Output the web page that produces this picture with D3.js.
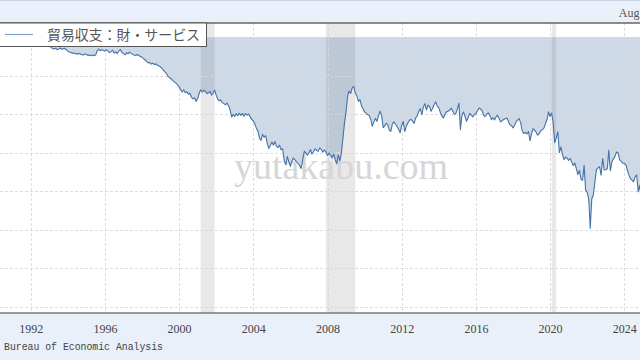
<!DOCTYPE html>
<html><head><meta charset="utf-8">
<script src="https://cdn.jsdelivr.net/npm/d3@7"></script>
<style>html,body{margin:0;padding:0;background:#e9f0fa;overflow:hidden}svg{display:block}</style>
</head><body><svg id="c" width="640" height="360"></svg>
<script>
// ---- data (monthly trade balance, billions USD) ----
const seriesName = "貿易収支：財・サービス";
const sourceText = "Bureau of Economic Analysis";
const headerText = "Aug";
const watermarkText = "yutakabu.com";
const firstMonth = "1992-01-01";
const tradeBalance = [
  -1.9,-1.2,-2.5,-2.6,-3.2,-4.1,-3.3,-3.5,-3.1,-3.8,-3.5,-4.0,          // 1992
  -4.2,-5.4,-5.9,-6.3,-5.8,-6.6,-6.2,-5.7,-6.4,-6.1,-5.9,-6.5,          // 1993
  -7.4,-7.8,-8.1,-8.5,-8.3,-8.6,-8.9,-8.5,-8.8,-9.1,-9.4,-8.8,          // 1994
  -9.0,-9.6,-9.4,-9.8,-9.3,-9.7,-9.4,-7.3,-6.3,-7.1,-6.6,-6.9,          // 1995
  -7.4,-6.5,-7.3,-8.1,-7.6,-6.9,-8.4,-7.8,-8.6,-7.3,-6.6,-8.0,          // 1996
  -8.6,-9.3,-8.2,-8.7,-7.9,-8.5,-9.0,-9.4,-9.7,-9.1,-9.6,-10.2,         // 1997
  -10.4,-11.3,-11.8,-12.6,-13.5,-13.2,-14.1,-13.6,-14.4,-13.9,-14.8,-15.0, // 1998
  -15.6,-16.3,-17.4,-18.3,-19.1,-20.6,-21.2,-21.8,-22.7,-23.4,-23.9,-24.8, // 1999
  -25.9,-27.3,-28.6,-27.4,-28.9,-28.5,-29.7,-29.2,-31.4,-32.1,-31.6,-33.5, // 2000
  -32.0,-29.1,-27.4,-28.6,-27.7,-28.2,-29.4,-29.0,-28.3,-30.2,-29.1,-27.6, // 2001
  -30.3,-32.4,-33.2,-32.6,-34.1,-34.6,-35.2,-34.3,-35.7,-37.9,-41.6,-40.2, // 2002
  -41.3,-39.8,-40.9,-39.6,-40.7,-39.7,-41.2,-39.8,-40.6,-40.0,-41.5,-42.8, // 2003
  -43.6,-45.1,-47.3,-48.9,-52.4,-53.7,-50.6,-52.1,-51.2,-55.1,-57.9,-56.4, // 2004
  -54.6,-56.2,-54.3,-56.7,-57.5,-56.2,-58.6,-58.1,-64.4,-66.3,-62.1,-64.8, // 2005
  -67.2,-64.3,-62.9,-63.8,-64.9,-65.7,-66.8,-68.3,-63.5,-59.4,-60.1,-61.4, // 2006
  -60.2,-58.5,-60.8,-59.6,-58.1,-58.9,-59.3,-57.6,-58.4,-59.8,-58.7,-59.7, // 2007
  -61.5,-60.3,-61.4,-62.8,-60.9,-63.7,-65.9,-61.2,-64.4,-60.1,-52.3,-44.6, // 2008
  -38.6,-30.5,-28.2,-29.3,-26.4,-25.6,-29.1,-30.7,-33.4,-32.6,-35.8,-37.4, // 2009
  -38.9,-39.7,-40.3,-40.8,-42.6,-46.4,-44.1,-42.3,-43.8,-40.9,-38.5,-40.6, // 2010
  -47.1,-46.2,-44.8,-45.6,-48.3,-49.0,-45.2,-44.1,-45.3,-46.5,-47.9,-49.8, // 2011
  -45.8,-43.9,-49.1,-46.4,-44.7,-43.2,-42.8,-43.6,-44.9,-42.1,-41.0,-38.7, // 2012
  -37.2,-40.3,-36.5,-34.6,-37.9,-35.4,-36.1,-38.6,-37.0,-35.1,-33.7,-35.9, // 2013
  -36.8,-39.2,-41.0,-42.1,-40.3,-38.9,-38.6,-38.1,-36.9,-38.4,-40.2,-39.7, // 2014
  -37.5,-34.4,-48.1,-40.6,-38.9,-41.3,-43.8,-42.0,-39.7,-40.6,-41.5,-40.4, // 2015
  -39.8,-38.3,-36.9,-37.4,-38.2,-40.6,-41.3,-40.1,-39.4,-40.7,-42.9,-41.8, // 2016
  -43.1,-41.5,-40.6,-42.3,-44.1,-43.4,-42.9,-42.5,-42.1,-43.8,-45.6,-46.0, // 2017
  -47.2,-45.8,-44.1,-43.2,-42.4,-44.6,-48.7,-50.1,-49.6,-50.3,-49.1,-53.9, // 2018
  -50.2,-47.6,-48.4,-49.5,-51.0,-50.2,-48.7,-48.1,-47.3,-45.1,-43.0,-38.9, // 2019
  -41.3,-39.5,-44.6,-54.9,-52.4,-49.3,-60.1,-57.2,-61.0,-63.7,-62.4,-62.9, // 2020
  -64.1,-63.2,-65.0,-66.8,-65.5,-68.4,-71.5,-69.3,-73.9,-74.5,-66.7,-79.8, // 2021
  -80.6,-84.5,-99.4,-84.0,-82.1,-75.4,-68.9,-68.0,-67.4,-71.8,-63.2,-69.1, // 2022
  -69.0,-68.3,-58.8,-69.5,-64.9,-63.3,-62.0,-59.7,-60.2,-63.8,-64.5,-65.6, // 2023
  -65.6,-66.4,-69.1,-71.8,-73.5,-74.4,-75.3,-72.7,-71.6,-80.3,-77.1,-85.5  // 2024
];
const xTickYears = [1992, 1996, 2000, 2004, 2008, 2012, 2016, 2020, 2024];
const yTickValues = [0, -20, -40, -60, -80, -100, -120, -140];
const recessions = [["2001-03-01","2001-11-30"],["2007-12-01","2009-06-30"],["2020-02-01","2020-04-30"]];

// ---- layout ----
const W = 640, H = 360;
const plot = {left: 0, right: 640, top: 23, bottom: 313};
const svg = d3.select("#c");
const parse = d3.utcParse("%Y-%m-%d");
const start = parse(firstMonth);
const data = tradeBalance.map((v, i) => ({date: d3.utcMonth.offset(start, i), v}));

const x = d3.scaleUtc()
  .domain([new Date(Date.UTC(1992,0,1)), new Date(Date.UTC(2024,0,1))])
  .range([30.7, 624.3]);
const y = d3.scaleLinear().domain([-140, 0]).range([306.5, 37]);

svg.append("rect").attr("width", W).attr("height", H).attr("fill", "#e9f0fa");
svg.append("line").attr("x1",0).attr("x2",W).attr("y1",0.5).attr("y2",0.5).attr("stroke","#c9d5e6");

svg.append("defs").append("clipPath").attr("id","clip")
  .append("rect").attr("x",plot.left).attr("y",plot.top)
  .attr("width",plot.right-plot.left).attr("height",plot.bottom-plot.top);

const g = svg.append("g").attr("clip-path","url(#clip)");
g.append("rect").attr("x",plot.left).attr("y",plot.top)
  .attr("width",plot.right-plot.left).attr("height",plot.bottom-plot.top).attr("fill","#fff");

// recessions
g.selectAll("rect.rec").data(recessions).join("rect").attr("class","rec")
  .attr("x", d => x(parse(d[0])))
  .attr("width", d => x(parse(d[1])) - x(parse(d[0])))
  .attr("y", plot.top).attr("height", plot.bottom - plot.top)
  .attr("fill", "#e8e8e8");

// area
g.append("path").datum(data)
  .attr("d", d3.area().x(d => x(d.date)).y0(y(0)).y1(d => y(d.v)))
  .attr("fill", "#4572a7").attr("fill-opacity", 0.27);

// grid
const gridColor = "rgba(215,215,215,0.85)";
g.selectAll("line.hg").data(yTickValues).join("line").attr("class","hg")
  .attr("x1", plot.left).attr("x2", plot.right)
  .attr("y1", d => Math.round(y(d)) + 0.5).attr("y2", d => Math.round(y(d)) + 0.5)
  .attr("stroke", gridColor).attr("stroke-dasharray", "3,2");
g.selectAll("line.vg").data(xTickYears).join("line").attr("class","vg")
  .attr("x1", d => Math.round(x(new Date(Date.UTC(d,0,1)))) + 0.5)
  .attr("x2", d => Math.round(x(new Date(Date.UTC(d,0,1)))) + 0.5)
  .attr("y1", plot.top).attr("y2", plot.bottom)
  .attr("stroke", gridColor).attr("stroke-dasharray", "3,2");

// watermark
g.append("text").attr("x", 341).attr("y", 179).attr("text-anchor","middle")
  .attr("font-family","'Liberation Serif', serif").attr("font-size", 38)
  .attr("fill", "#d6d6d6").text(watermarkText);

// line
g.append("path").datum(data)
  .attr("d", d3.line().x(d => x(d.date)).y(d => y(d.v)))
  .attr("fill","none").attr("stroke","#4572a7").attr("stroke-width",1.1)
  .attr("stroke-linejoin","round");

// x axis
const xAxis = d3.axisBottom(x)
  .tickValues(xTickYears.map(yr => new Date(Date.UTC(yr,0,1))))
  .tickFormat(d3.utcFormat("%Y")).tickSize(0).tickPadding(0);
const ax = svg.append("g").attr("transform", `translate(0,${plot.bottom})`).call(xAxis);
ax.select(".domain").remove();
ax.selectAll("text").attr("y", 20).attr("dy", 0)
  .attr("font-family","'Liberation Serif', serif").attr("font-size", 12).attr("fill","#444");
svg.append("line").attr("x1",0).attr("x2",W).attr("y1",plot.bottom).attr("y2",plot.bottom)
  .attr("stroke","#7a7a7a").attr("stroke-width",1.5);

// top border
svg.append("line").attr("x1",0).attr("x2",W).attr("y1",plot.top).attr("y2",plot.top)
  .attr("stroke","#666").attr("stroke-width",1.3);

// header (truncated date label at the right edge)
svg.append("text").attr("x", 639.5).attr("y", 17).attr("text-anchor","end")
  .attr("font-family","'Liberation Serif', serif").attr("font-size", 12).attr("fill","#555")
  .text(headerText);

// source
svg.append("text").attr("x", 4).attr("y", 350)
  .attr("font-family","'Liberation Mono', monospace").attr("font-size", 11).attr("fill","#444")
  .attr("textLength", 159).attr("lengthAdjust","spacingAndGlyphs")
  .text(sourceText);

// legend
const lg = svg.append("g");
lg.append("rect").attr("x",-1).attr("y",plot.top).attr("width",207.5).attr("height",23.5)
  .attr("fill","#fff").attr("stroke","#555").attr("stroke-width",1);
lg.append("line").attr("x1",5).attr("x2",33).attr("y1",34.5).attr("y2",34.5)
  .attr("stroke","#7f9fd2").attr("stroke-width",1.2);
lg.append("text").attr("x",47).attr("y",40)
  .attr("font-family","'Noto Sans CJK JP', sans-serif").attr("font-size",14).attr("fill","#555")
  .attr("textLength",153).attr("lengthAdjust","spacingAndGlyphs")
  .text(seriesName);
</script></body></html>
